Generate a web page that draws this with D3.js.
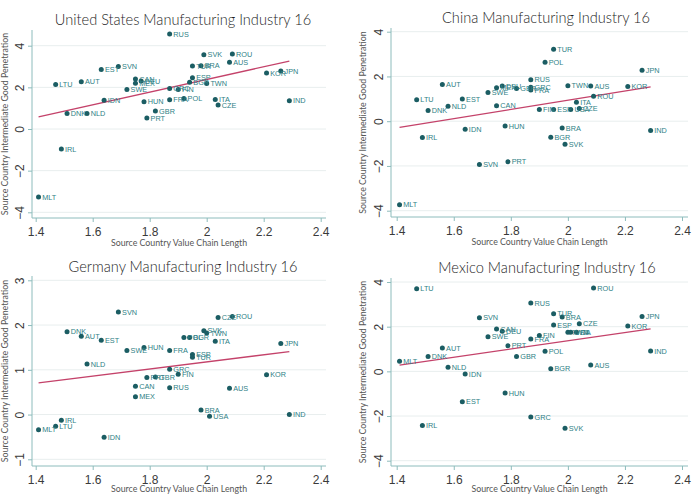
<!DOCTYPE html>
<html>
<head>
<meta charset="utf-8">
<script src="https://cdn.jsdelivr.net/npm/d3@7"></script>
<style>
  body { margin: 0; background: #fff; }
  svg { display: block; }
  .title { font-family: Lato, "Open Sans", sans-serif; font-weight: 300; font-size: 14.6px; fill: #1e1e1e; }
  .axtitle { font-family: Lato, "Open Sans", sans-serif; font-size: 8.8px; fill: #555; }
  .tick text { font-family: "Liberation Sans", Arial, sans-serif; font-size: 12px; fill: #3a3a3a; }
  .lab { font-family: "Liberation Sans", Arial, sans-serif; font-size: 7.3px; fill: #2f7f86; }
</style>
</head>
<body>
<div id="chart"></div>
<script>
// country codes and their value chain length (x, same in every panel)
var codes = ["AUS","AUT","BGR","BRA","CAN","CZE","DEU","DNK","ESP","EST","FIN","FRA","GBR","GRC","HUN","IDN","IND","IRL","ITA","JPN","KOR","LTU","MEX","MLT","NLD","POL","PRT","ROU","RUS","SVK","SVN","SWE","TUR","TWN","USA"];
var chainLength = [2.08,1.56,1.94,1.98,1.75,2.04,1.77,1.51,1.95,1.63,1.90,1.87,1.82,1.87,1.78,1.64,2.29,1.49,2.03,2.26,2.21,1.47,1.75,1.41,1.58,1.92,1.79,2.09,1.87,1.99,1.69,1.72,1.95,2.00,2.01];

// intermediate good penetration, one array per destination (null = own country)
var usPen = [3.2,2.27,2.25,3.04,2.4,1.15,2.3,0.74,2.46,2.86,1.9,1.41,0.86,1.95,1.31,1.38,1.36,-0.96,1.42,2.78,2.69,2.14,2.2,-3.26,0.74,1.47,0.53,3.6,4.56,3.57,3.0,1.9,3.02,2.18,null];
var chinaPen = [1.57,1.64,-0.72,-0.3,0.69,0.57,1.57,0.48,0.52,0.99,0.52,1.39,1.46,1.52,-0.21,-0.36,-0.42,-0.73,0.85,2.28,1.55,0.96,1.49,-3.73,0.67,2.63,-1.81,1.12,1.85,-1.03,-1.93,1.28,3.22,1.58,0.52];
var germanyPen = [0.59,1.75,1.72,0.1,0.63,2.17,null,1.85,1.34,1.66,0.9,1.43,0.84,1.01,1.5,-0.51,0.0,-0.13,1.64,1.59,0.89,-0.26,0.4,-0.34,1.13,1.72,0.83,2.19,0.6,1.87,2.29,1.43,1.28,1.82,-0.04];
var mexicoPen = [0.28,1.04,0.12,2.43,1.9,2.13,1.79,0.66,2.07,-1.36,1.6,1.45,0.66,-2.04,-0.97,-0.12,0.91,-2.42,1.75,2.45,2.03,3.7,null,0.45,0.18,0.9,1.15,3.73,3.06,-2.55,2.4,1.55,2.58,1.75,1.75];

var xTicks = [1.4, 1.6, 1.8, 2, 2.2, 2.4];
var yTicksWide = [-4, -2, 0, 2, 4];
var yTicksGermany = [-1, 0, 1, 2, 3];

var panels = [
  { title: "United States Manufacturing Industry 16", pen: usPen, yTicks: yTicksWide,
    box: [32, 326, 30, 218], xr: [35.7, 320.7], yd: [-4, 4], yr: [212.3, 45.7],
    tx: 183, ty: 25, ytx: 5, xty: 246 },
  { title: "China Manufacturing Industry 16", pen: chinaPen, yTicks: yTicksWide,
    box: [391, 688, 28, 217], xr: [396.7, 682], yd: [-4, 4], yr: [210.7, 31.7],
    tx: 546, ty: 23, ytx: 363, xty: 245 },
  { title: "Germany Manufacturing Industry 16", pen: germanyPen, yTicks: yTicksGermany,
    box: [32, 326, 276, 466], xr: [35.7, 320.7], yd: [-1, 3], yr: [459.3, 280.3],
    tx: 183, ty: 272, ytx: 5, xty: 492 },
  { title: "Mexico Manufacturing Industry 16", pen: mexicoPen, yTicks: yTicksWide,
    box: [391, 688, 278, 466], xr: [396.7, 682], yd: [-4, 4], yr: [460.7, 282],
    tx: 547, ty: 273, ytx: 363, xty: 492 }
];

var svg = d3.select("#chart").append("svg")
  .attr("width", 693)
  .attr("height", 496);

var axisColor = "#8dbcbc",
    gridColor = "#e8eeee",
    dotColor = "#1b5d63",
    fitColor = "#c4426a";

panels.forEach(function(p) {
  var left = p.box[0], right = p.box[1], top = p.box[2], bottom = p.box[3];
  var x = d3.scaleLinear().domain([1.4, 2.4]).range(p.xr);
  var y = d3.scaleLinear().domain(p.yd).range(p.yr);

  var data = [];
  codes.forEach(function(c, i) {
    if (p.pen[i] !== null) data.push({ code: c, x: chainLength[i], y: p.pen[i] });
  });

  var g = svg.append("g");

  // grid lines
  g.selectAll(".grid")
    .data(p.yTicks)
    .enter()
    .append("line")
    .attr("x1", left).attr("x2", right)
    .attr("y1", function(d) { return y(d); })
    .attr("y2", function(d) { return y(d); })
    .attr("stroke", gridColor)
    .attr("stroke-width", 1);

  // x axis
  var xa = g.append("g")
    .attr("transform", "translate(0," + bottom + ")")
    .call(d3.axisBottom(x).tickValues(xTicks).tickSize(4).tickSizeOuter(0)
      .tickFormat(function(d) { return d === 2 ? "2" : d3.format(".1f")(d); }));
  xa.select(".domain").attr("d", "M" + left + ",0H" + right).attr("stroke", axisColor);
  xa.selectAll(".tick line").attr("stroke", axisColor);
  xa.selectAll(".tick text").attr("y", 9).attr("dy", "0.71em");

  // y axis, rotated labels
  var ya = g.append("g")
    .attr("transform", "translate(" + left + ",0)")
    .call(d3.axisLeft(y).tickValues(p.yTicks).tickSize(4).tickSizeOuter(0)
      .tickFormat(function(d) { return d < 0 ? "\u2212" + Math.abs(d) : d; }));
  ya.select(".domain").attr("d", "M0," + top + "V" + bottom).attr("stroke", axisColor);
  ya.selectAll(".tick line").attr("stroke", axisColor);
  ya.selectAll(".tick text")
    .attr("transform", "rotate(-90)")
    .attr("x", 0)
    .attr("y", -8)
    .attr("dy", 0)
    .style("text-anchor", "middle");

  // fitted line (least squares)
  var mx = d3.mean(data, function(d) { return d.x; }),
      my = d3.mean(data, function(d) { return d.y; });
  var sxy = d3.sum(data, function(d) { return (d.x - mx) * (d.y - my); }),
      sxx = d3.sum(data, function(d) { return (d.x - mx) * (d.x - mx); });
  var b = sxy / sxx, a = my - b * mx;
  var ext = d3.extent(data, function(d) { return d.x; });
  g.append("path")
    .datum(ext)
    .attr("d", d3.line()
      .x(function(d) { return x(d); })
      .y(function(d) { return y(a + b * d); }))
    .attr("stroke", fitColor)
    .attr("stroke-width", 1.3)
    .attr("fill", "none");

  // points
  g.selectAll(".dot")
    .data(data)
    .enter()
    .append("circle")
    .attr("cx", function(d) { return x(d.x); })
    .attr("cy", function(d) { return y(d.y); })
    .attr("r", 2.5)
    .attr("fill", dotColor);

  // point labels
  g.selectAll(".lab")
    .data(data)
    .enter()
    .append("text")
    .attr("class", "lab")
    .attr("x", function(d) { return x(d.x) + 3.7; })
    .attr("y", function(d) { return y(d.y); })
    .attr("dy", "0.36em")
    .text(function(d) { return d.code; });

  // titles
  g.append("text")
    .attr("class", "title")
    .attr("x", p.tx).attr("y", p.ty)
    .style("text-anchor", "middle")
    .text(p.title);

  g.append("text")
    .attr("class", "axtitle")
    .attr("x", (left + right) / 2).attr("y", p.xty)
    .style("text-anchor", "middle")
    .text("Source Country Value Chain Length");

  g.append("text")
    .attr("class", "axtitle")
    .attr("transform", "translate(" + p.ytx + "," + ((top + bottom) / 2) + ") rotate(-90)")
    .attr("dy", "0.35em")
    .style("text-anchor", "middle")
    .text("Source Country Intermediate Good Penetration");
});
</script>
</body>
</html>
